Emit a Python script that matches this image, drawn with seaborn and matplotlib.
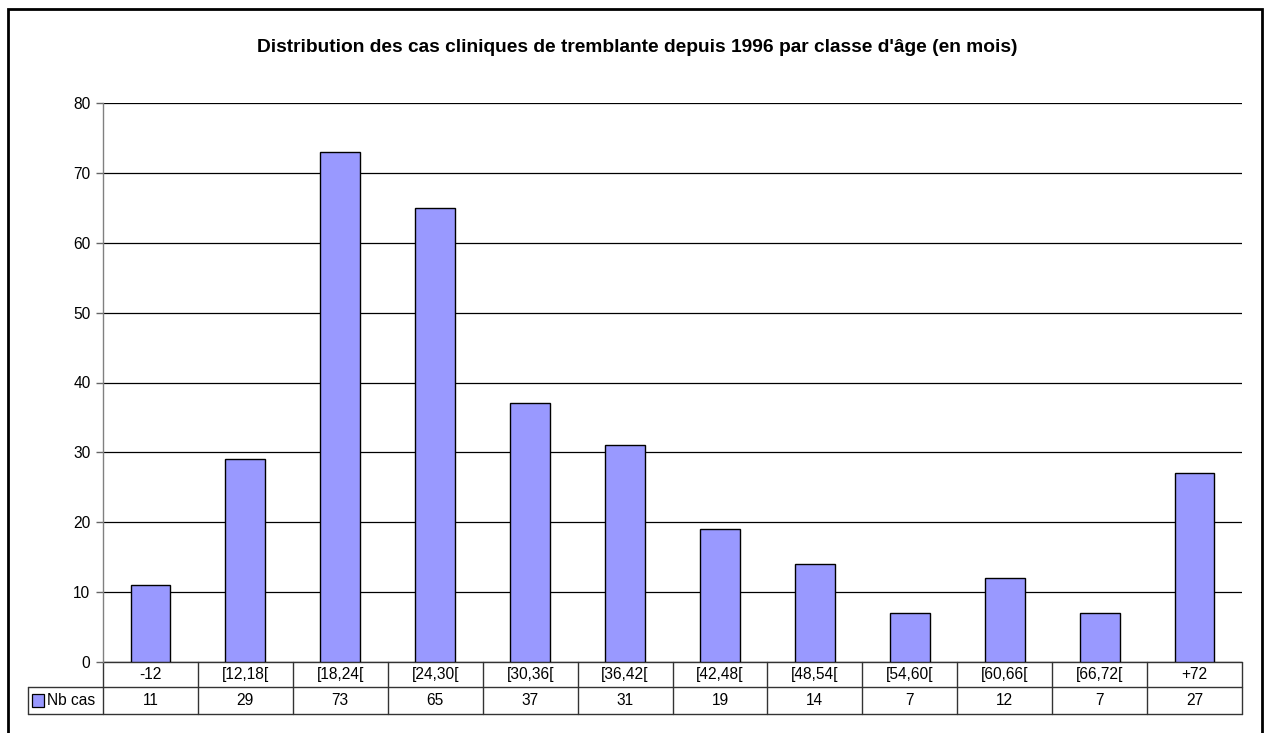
import matplotlib.pyplot as plt
import pandas as pd
import seaborn as sns
from matplotlib.patches import Rectangle

# Données
classes = ["-12", "[12,18[", "[18,24[", "[24,30[", "[30,36[", "[36,42[",
           "[42,48[", "[48,54[", "[54,60[", "[60,66[", "[66,72[", "+72"]
nb_cas = [11, 29, 73, 65, 37, 31, 19, 14, 7, 12, 7, 27]
serie = "Nb cas"
titre = "Distribution des cas cliniques de tremblante depuis 1996 par classe d'âge (en mois)"

df = pd.DataFrame({"classe": classes, "nb": nb_cas})

sns.set_theme(style="white")
plt.rcParams["font.family"] = ["Liberation Sans", "DejaVu Sans"]
plt.rcParams["text.color"] = "black"

W, H = 1264, 733
fs = 11.2
fig = plt.figure(figsize=(W / 100, H / 100), dpi=100)
ax = fig.add_axes([103 / W, 1 - 662 / H, (1242 - 103) / W, (662 - 103) / H])

bar_color = "#9999FF"
sns.barplot(data=df, x="classe", y="nb", color=bar_color, width=0.42,
            edgecolor="black", linewidth=1, saturation=1, ax=ax, zorder=3)

ax.set_xlim(-0.5, len(classes) - 0.5)
ax.set_ylim(0, 80)
ax.set_yticks(range(0, 81, 10))
ax.yaxis.grid(True, color="black", linewidth=0.9, zorder=0)
ax.set_xlabel("")
ax.set_ylabel("")
ax.set_xticks([])
ax.tick_params(axis="y", left=True, length=5, width=1, color="#666666",
               labelsize=fs, labelcolor="black", pad=4)
for s in ["top", "right", "bottom"]:
    ax.spines[s].set_visible(False)
ax.spines["left"].set_color("#808080")
ax.spines["left"].set_linewidth(1)

# Tableau de données sous le graphique
tr = ax.get_xaxis_transform()
ph = 662 - 103
upx = (1242 - 103) / len(classes)
r1 = -25 / ph
r2 = -52 / ph
xl = -0.5 - 75 / upx
xr = len(classes) - 0.5
lc = "#333333"
kw = dict(transform=tr, clip_on=False, color=lc, linewidth=1)
ax.plot([-0.5, xr], [0, 0], **kw)
ax.plot([xl, xr], [r1, r1], **kw)
ax.plot([xl, xr], [r2, r2], **kw)
ax.plot([xl, xl], [r1, r2], **kw)
for i in range(len(classes) + 1):
    ax.plot([i - 0.5, i - 0.5], [0, r2], **kw)
for i, (c, v) in enumerate(zip(classes, nb_cas)):
    ax.text(i, r1 / 2, c, transform=tr, ha="center", va="center", fontsize=fs)
    ax.text(i, (r1 + r2) / 2, str(v), transform=tr, ha="center", va="center", fontsize=fs)

# Légende dans le tableau
ym = (r1 + r2) / 2
ax.add_patch(Rectangle((xl + 4 / upx, ym - 6.5 / ph), 12 / upx, 13 / ph,
                       transform=tr, clip_on=False, facecolor=bar_color,
                       edgecolor="black", linewidth=0.9))
ax.text(xl + 19 / upx, ym, serie, transform=tr, ha="left", va="center",
        fontsize=fs)

fig.text(0.5 * (258 + 1016) / W, 1 - 48 / H, titre, ha="center", va="center",
         fontsize=13.8, fontweight="bold", color="black")

# Cadre extérieur
fig.patches.append(Rectangle((8 / W, -0.01), (1262 - 8) / W, 1 - 9 / H + 0.01,
                             transform=fig.transFigure, fill=False,
                             edgecolor="black", linewidth=2))

fig.savefig("out.png", dpi=100)
plt.close(fig)
